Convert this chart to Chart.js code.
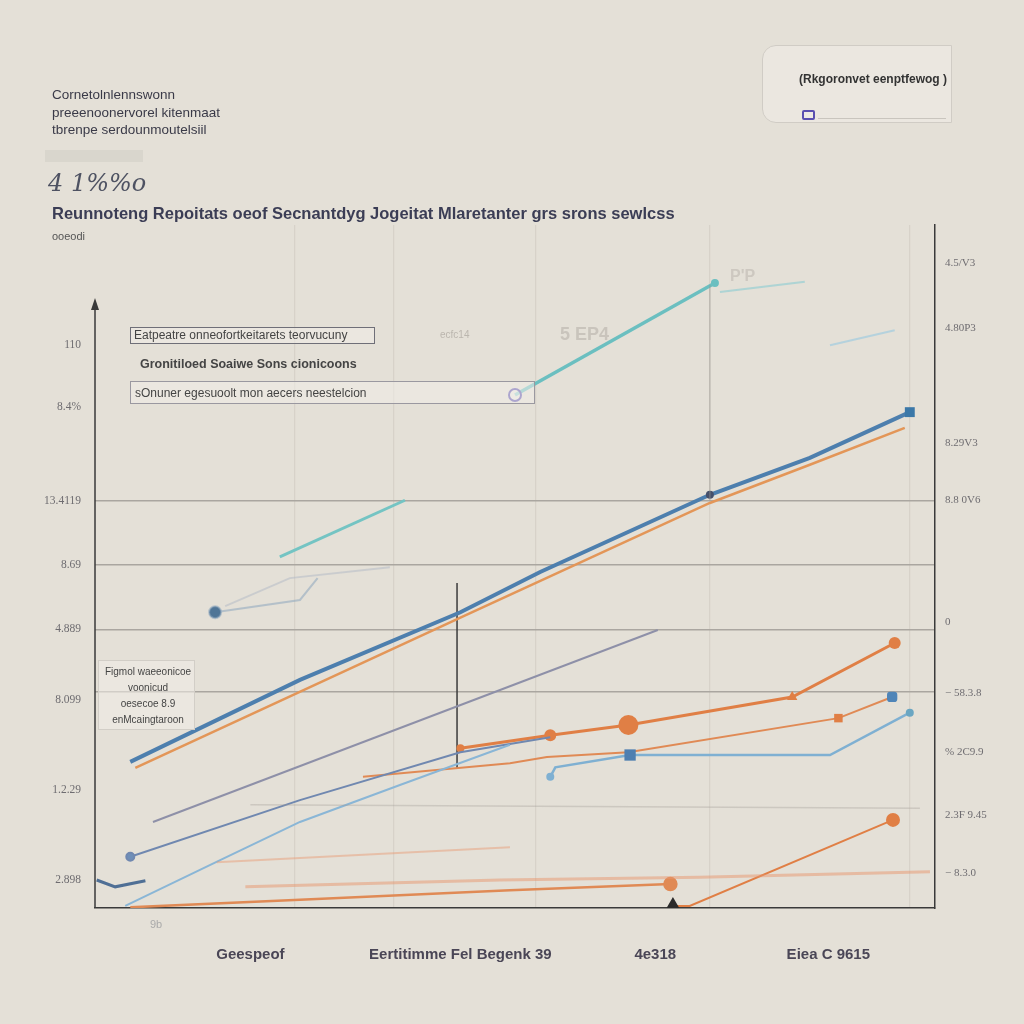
<!DOCTYPE html>
<html>
<head>
<meta charset="utf-8">
<script src="https://cdn.jsdelivr.net/npm/chart.js@4.4.0/dist/chart.umd.min.js"></script>
<style>
  body { margin:0; background:#e4e0d7; font-family:"Liberation Sans", Arial, sans-serif; }
  #wrap { position:relative; width:1024px; height:1024px; overflow:hidden; }
  #mycanvas { position:absolute; left:0; top:0; }
  .t { position:absolute; white-space:nowrap; color:#3a3a48; }
  .box { position:absolute; box-sizing:border-box; background:rgba(240,237,231,0.55); }
</style>
</head>
<body>
<div id="wrap">
  <canvas id="mycanvas" width="1024" height="1024"></canvas>

  <div class="t" style="left:52px;top:87px;font-size:13.5px;">Cornetolnlennswonn</div>
  <div class="t" style="left:52px;top:105px;font-size:13.5px;">preeenoonervorel kitenmaat</div>
  <div class="t" style="left:52px;top:122px;font-size:13.5px;">tbrenpe serdounmoutelsiil</div>
  <div class="box" style="left:45px;top:150px;width:98px;height:12px;background:rgba(210,206,198,0.6);"></div>
  <div class="t" style="left:48px;top:169px;font-size:24px;font-family:'DejaVu Serif',serif;font-style:italic;color:#4e5262;">4 1%%o</div>
  <div class="t" style="left:52px;top:204px;font-size:16.5px;font-weight:bold;color:#3b3d55;">Reunnoteng Repoitats oeof Secnantdyg Jogeitat Mlaretanter grs srons sewlcss</div>
  <div class="t" style="left:52px;top:230px;font-size:11px;color:#555;">ooeodi</div>

  <div class="box" style="left:762px;top:45px;width:190px;height:78px;border:1px solid #d0ccc5;border-radius:14px 0 0 14px;"></div>
  <div class="t" style="left:799px;top:72px;font-size:12px;font-weight:bold;color:#333;">(Rkgoronvet eenptfewog )</div>
  <div class="box" style="left:802px;top:110px;width:13px;height:10px;border:2px solid #5a4fb0;border-radius:2px;"></div>
  <div class="box" style="left:818px;top:118px;width:128px;height:1px;background:#c9c5be;"></div>

  <div class="box" style="left:130px;top:327px;width:245px;height:17px;border:1px solid #6f6f78;"></div>
  <div class="t" style="left:134px;top:328px;font-size:12px;color:#444;">Eatpeatre onneofortkeitarets teorvucuny</div>
  <div class="t" style="left:440px;top:329px;font-size:10px;color:#bbb6ae;">ecfc14</div>
  <div class="t" style="left:560px;top:324px;font-size:18px;font-weight:bold;color:#c9c4bc;">5 EP4</div>
  <div class="t" style="left:730px;top:267px;font-size:16px;font-weight:bold;color:#cdc8c0;">P'P</div>
  <div class="t" style="left:140px;top:357px;font-size:12.5px;font-weight:bold;color:#444;">Gronitiloed Soaiwe Sons cionicoons</div>
  <div class="box" style="left:130px;top:381px;width:405px;height:23px;border:1px solid #9a98a0;"></div>
  <div class="t" style="left:135px;top:386px;font-size:12px;color:#444;">sOnuner egesuoolt mon aecers neestelcion</div>

  <div class="box" style="left:98px;top:660px;width:97px;height:70px;border:1px solid #d2cec7;"></div>
  <div class="t" style="left:98px;top:664px;width:100px;text-align:center;font-size:10px;color:#444;line-height:16px;white-space:normal;">Figmol waeeonicoe<br>voonicud<br>oesecoe 8.9<br>enMcaingtaroon</div>
  <div class="t" style="left:150px;top:918px;font-size:11px;color:#aaa;">9b</div>
</div>

<script>
// axis ticks
var leftTickValues = [4.1, 17.3, 30.5, 31.6, 40.8, 50.2, 59.6, 73.4, 82.4];
var leftTickLabels = ['2.898', '1.2.29', '8.099', '', '4.889', '8.69', '13.4119', '8.4%', '110'];
var gridValues = [31.6, 40.8, 50.2, 59.6];
var rightTickValues = [94.4, 84.9, 68.1, 59.7, 41.9, 31.5, 22.8, 13.6, 5.1];
var rightTickLabels = ['4.5/V3', '4.80P3', '8.29V3', '8.8 0V6', '0', '\u2212 58.3.8', '% 2C9.9', '2.3F 9.45', '\u2212 8.3.0'];
var xTickValues = [18.5, 43.5, 66.7, 87.3];
var xTickLabels = ['Geespeof', 'Eertitimme Fel Begenk 39', '4e318', 'Eiea C 9615'];
var vGridValues = [23.8, 35.5, 52.4, 73.2, 97.0];

// series  [x, y]
var blueMain = [[4.2,21.4],[24.4,33.4],[43.5,43.3],[53.0,49.2],[73.2,60.5],[85.1,65.9],[97.0,72.6]];
var orangeMain = [[4.8,20.5],[43.5,42.5],[73.2,59.3],[85.1,64.9],[96.4,70.3]];
var tealA = [[22.0,51.4],[36.9,59.7]];
var tealB = [[50.0,75.1],[73.8,91.5]];
var tealFaint = [[74.4,90.2],[84.5,91.7]];
var lightBlueTop = [[87.5,82.4],[95.2,84.6]];
var lightGrayA = [[14.3,43.3],[24.4,45.1],[26.5,48.3]];
var lightGrayB = [[15.5,44.2],[23.2,48.3],[35.1,49.9]];
var grayPurple = [[6.9,12.6],[67.0,40.7]];
var blueA = [[4.2,7.5],[24.4,15.8],[43.5,22.8],[54.2,25.0]];
var blueB = [[3.6,0.3],[14.9,7.0],[24.4,12.6],[36.3,18.0],[49.4,23.9]];
var blueC = [[0.2,4.1],[2.4,3.1],[6.0,4.0]];
var orangeMid = [[43.5,23.4],[54.2,25.3],[63.5,26.8],[83.0,30.9],[95.2,38.8]];
var orangeLow = [[31.9,19.2],[49.4,21.2],[53.8,22.1],[63.5,22.8],[88.5,27.8],[94.9,30.9]];
var lightBlueMid = [[54.2,19.2],[54.8,20.6],[63.7,22.4],[87.5,22.4],[97.0,28.6]];
var orangeBottom = [[4.2,0.1],[24.4,1.2],[49.4,2.6],[68.5,3.5]];
var orangeRise = [[68.8,0.3],[70.8,0.3],[95.0,12.9]];
var orangeFaint1 = [[17.9,3.1],[48.2,4.1],[72.0,4.5],[99.4,5.3]];
var orangeFaint2 = [[14.5,6.7],[49.4,8.9]];
var grayFaint = [[18.5,15.1],[98.2,14.6]];
var darkVertical = [[43.1,47.6],[43.1,20.5]];
var grayVertical = [[73.2,59.7],[73.2,91.2]];

function pts(arr) {
	return arr.map(function(p){ return {x: p[0], y: p[1]}; });
}
function line(arr, color, width, extra) {
	var ds = {
		data: pts(arr),
		borderColor: color,
		backgroundColor: color,
		borderWidth: width,
		pointRadius: 0,
		tension: 0,
		fill: false
	};
	for (var k in extra) ds[k] = extra[k];
	return ds;
}
function near(list, v) {
	for (var i = 0; i < list.length; i++) if (Math.abs(list[i] - v) < 0.01) return i;
	return -1;
}

var datasets = [
	line(grayFaint, 'rgba(160,155,150,0.35)', 1.5),
	line(orangeFaint1, 'rgba(232,150,110,0.5)', 3),
	line(orangeFaint2, 'rgba(232,150,110,0.45)', 2),
	line(grayVertical, 'rgba(150,148,145,0.45)', 1.5),
	line(tealFaint, 'rgba(120,200,210,0.5)', 2),
	line(lightBlueTop, 'rgba(150,200,225,0.6)', 2),
	line(lightGrayA, 'rgba(140,165,190,0.55)', 2, {pointRadius: [6,0,0], pointStyle: 'circle', pointBackgroundColor: '#4f7596'}),
	line(lightGrayB, 'rgba(170,180,195,0.45)', 2),
	line(tealA, '#74c4c3', 3),
	line(tealB, '#6bbfc0', 3.5, {pointRadius: [6,3], pointBackgroundColor: ['rgba(255,255,255,0.3)','#6bbfc0'], pointBorderColor: ['#5a4fb0','#6bbfc0'], pointBorderWidth: 2}),
	line(grayPurple, '#8e90a8', 2),
	line(blueC, '#4f6f95', 3),
	line(blueB, '#8ab6d6', 2),
	line(blueA, '#7088b0', 2, {pointRadius: [4,0,0,0], pointBackgroundColor: '#6f8fb8'}),
	line(orangeBottom, '#e08a55', 2.5, {pointRadius: [0,0,0,6]}),
	line(orangeRise, '#e07f45', 2, {pointRadius: [7,0,6], pointStyle: ['triangle','circle','circle'], pointBackgroundColor: ['#2b2b2b','#e07f45','#e07f45'], pointBorderColor: ['#2b2b2b','#e07f45','#e07f45']}),
	line(lightBlueMid, '#7fb0d2', 2.5, {pointRadius: [4,0,8,0,4], pointStyle: ['circle','circle','rect','circle','circle'], pointBackgroundColor: ['#7fb0d2','#7fb0d2','#4f7fb0','#7fb0d2','#6aa6c2'], pointBorderColor: 'rgba(0,0,0,0)'}),
	line(orangeLow, '#e08a55', 2, {pointRadius: [0,0,0,0,6,6], pointStyle: ['circle','circle','circle','circle','rect','rectRounded'], pointBackgroundColor: ['#e08a55','#e08a55','#e08a55','#e08a55','#e07f45','#4f85b8'], pointBorderColor: 'rgba(0,0,0,0)'}),
	line(orangeMid, '#e07f45', 3, {pointRadius: [4,6,10,6,6], pointStyle: ['circle','circle','circle','triangle','circle'], pointBorderColor: 'rgba(0,0,0,0)'}),
	line(orangeMain, '#e39658', 2.5),
	line(blueMain, '#4d7fae', 4, {pointRadius: [0,0,0,0,4,0,7], pointStyle: ['circle','circle','circle','circle','circle','circle','rect'], pointBackgroundColor: ['#4d7fae','#4d7fae','#4d7fae','#4d7fae','#46506a','#4d7fae','#3b78a8'], pointBorderColor: 'rgba(0,0,0,0)'}),
	line(darkVertical, '#3c3c3c', 1.5)
];

var axisLines = {
	id: 'axisLines',
	afterDraw: function(chart) {
		var c = chart.ctx, a = chart.chartArea;
		c.save();
		c.strokeStyle = '#3a3a3a';
		c.lineWidth = 1.5;
		c.beginPath();
		c.moveTo(a.left, a.bottom);
		c.lineTo(a.left, 302);
		c.stroke();
		c.fillStyle = '#3a3a3a';
		c.beginPath();
		c.moveTo(a.left, 298);
		c.lineTo(a.left - 4, 310);
		c.lineTo(a.left + 4, 310);
		c.closePath();
		c.fill();
		c.restore();
	}
};

var ctx = document.getElementById('mycanvas');
var chart = new Chart(ctx, {
	type: 'line',
	data: { datasets: datasets },
	plugins: [axisLines],
	options: {
		responsive: false,
		animation: false,
		layout: { padding: { top: 225, left: 0, right: 0, bottom: 0 } },
		plugins: { legend: { display: false }, tooltip: { enabled: false } },
		scales: {
			x: {
				type: 'linear', min: 0, max: 100,
				afterFit: function(s){ s.height = 116; },
				afterBuildTicks: function(s){
					s.ticks = xTickValues.concat(vGridValues).sort(function(a,b){return a-b;}).map(function(v){ return {value: v}; });
				},
				border: { display: true, color: '#3a3a3a', width: 1.5 },
				grid: {
					drawTicks: false,
					lineWidth: 1.2,
					color: function(c){ return near(vGridValues, c.tick.value) >= 0 ? 'rgba(120,115,110,0.12)' : 'rgba(0,0,0,0)'; }
				},
				ticks: {
					autoSkip: false, maxRotation: 0, padding: 38,
					color: '#4a4656',
					font: { family: 'Liberation Sans', size: 15, weight: 'bold' },
					callback: function(v){ var i = near(xTickValues, v); return i >= 0 ? xTickLabels[i] : ''; }
				}
			},
			y: {
				type: 'linear', position: 'left', min: 0, max: 100,
				afterFit: function(s){ s.width = 95; },
				afterBuildTicks: function(s){ s.ticks = leftTickValues.map(function(v){ return {value: v}; }); },
				border: { display: false },
				grid: {
					drawTicks: false,
					lineWidth: 1.5,
					color: function(c){ return near(gridValues, c.tick.value) >= 0 ? '#aaa6a0' : 'rgba(0,0,0,0)'; }
				},
				ticks: {
					padding: 14,
					color: '#6e6c70',
					font: { family: 'Liberation Serif', size: 11.5 },
					callback: function(v){ var i = near(leftTickValues, v); return i >= 0 ? leftTickLabels[i] : ''; }
				}
			},
			y1: {
				type: 'linear', position: 'right', min: 0, max: 100,
				afterFit: function(s){ s.width = 89; },
				afterBuildTicks: function(s){ s.ticks = rightTickValues.map(function(v){ return {value: v}; }); },
				border: { display: true, color: '#3a3a3a', width: 1.5 },
				grid: { display: false, drawTicks: false },
				ticks: {
					padding: 10,
					color: '#6e6c70',
					font: { family: 'Liberation Serif', size: 11 },
					callback: function(v){ var i = near(rightTickValues, v); return i >= 0 ? rightTickLabels[i] : ''; }
				}
			}
		}
	}
});
</script>
</body>
</html>
